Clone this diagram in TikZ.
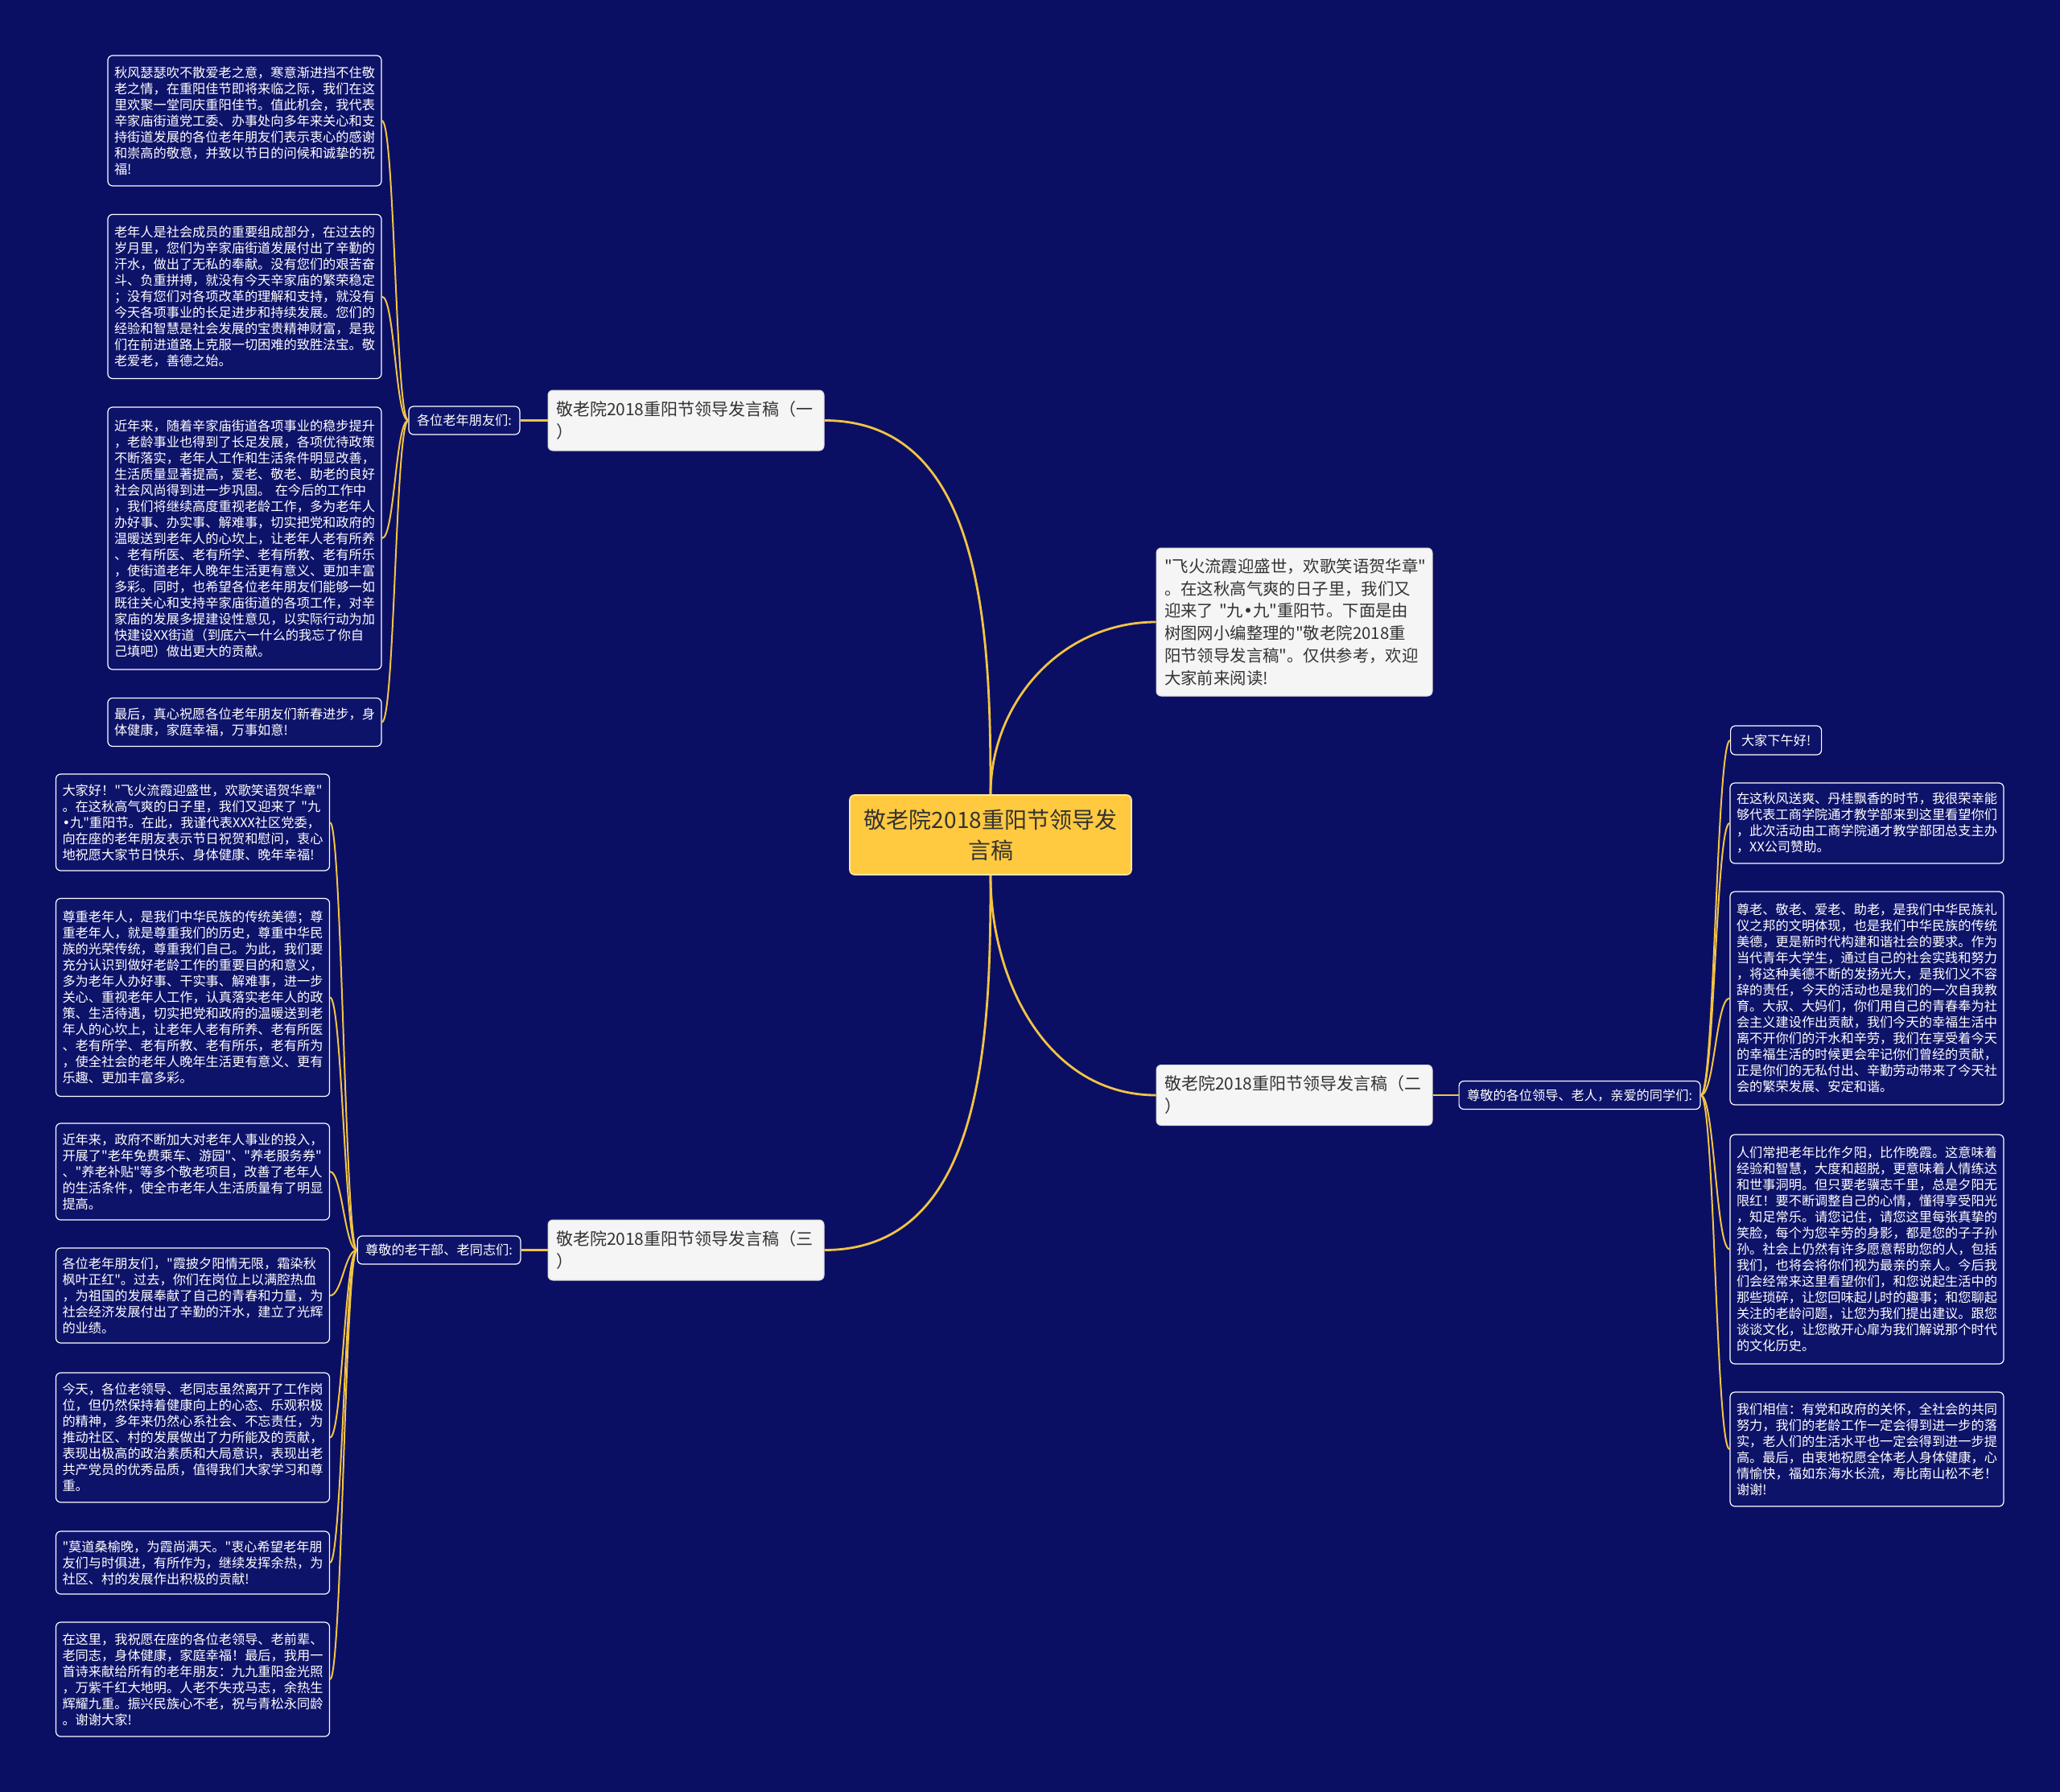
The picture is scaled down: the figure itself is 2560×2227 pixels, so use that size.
\documentclass[tikz,border=0pt]{standalone}
\usepackage{fontspec}
\setmainfont{Noto Sans CJK SC}
\newfontfamily\cjkfont{Noto Sans CJK SC}
\newfontfamily\dotfont{DejaVu Sans}
\newcommand{\middot}{{\dotfont •}}
\usetikzlibrary{positioning}
\definecolor{bgnavy}{RGB}{11, 15, 100}
\definecolor{leafnavy}{RGB}{14, 19, 106}
\definecolor{topicyellow}{RGB}{255, 201, 64}
\definecolor{topicedge}{RGB}{255, 232, 160}
\definecolor{subfill}{RGB}{245, 245, 245}
\definecolor{subedge}{RGB}{215, 215, 215}
\definecolor{subtext}{RGB}{51, 51, 51}
\definecolor{linkgold}{RGB}{242, 196, 68}
\tikzset{
    topic/.style={rectangle, draw=topicedge, fill=topicyellow, text=subtext, line width=0.8pt, rounded corners=3pt, minimum width=175pt, minimum height=49.5pt, align=center, font=\cjkfont\fontsize{14pt}{18.8pt}\selectfont},
    subtopic/.style={rectangle, draw=subedge, fill=subfill, text=subtext, line width=0.5pt, rounded corners=3pt, text width=161.5pt, inner xsep=5pt, minimum height=37.5pt, align=left, font=\cjkfont\fontsize{10.5pt}{14pt}\selectfont},
    tagbox/.style={rectangle, draw=white, fill=leafnavy, text=white, line width=0.6pt, rounded corners=3pt, inner xsep=5pt, minimum height=17.5pt, font=\cjkfont\fontsize{8.1pt}{10pt}\selectfont},
    leafbox/.style={rectangle, draw=white, fill=leafnavy, text=white, line width=0.6pt, rounded corners=3pt, text width=162pt, inner xsep=4pt, align=left, font=\cjkfont\fontsize{8.1pt}{10pt}\selectfont},
    mainlink/.style={draw=linkgold, line width=1.4pt},
    twiglink/.style={draw=linkgold, line width=1pt}
}
\begin{document}
\begin{tikzpicture}[x=0.5pt, y=-0.5pt, node distance=16pt]
\fill [bgnavy] (0,0) rectangle (2560,2227);
\useasboundingbox (0,0) rectangle (2560,2227);

\node (topic) [topic] at (1231,1037.5) {敬老院2018重阳节领导发\\言稿};
\node (intro) [subtopic, minimum height=92pt, font=\cjkfont\fontsize{10.2pt}{13.9pt}\selectfont] at (1608.5,773) {"飞火流霞迎盛世，欢歌笑语贺华章"\\。在这秋高气爽的日子里，我们又\\迎来了~"九\middot 九"重阳节。下面是由\\树图网小编整理的"敬老院2018重\\阳节领导发言稿"。仅供参考，欢迎\\大家前来阅读!};
\node (sub1) [subtopic] at (852.5,522.5) {敬老院2018重阳节领导发言稿（一\\）};
\node (sub2) [subtopic] at (1608.5,1361) {敬老院2018重阳节领导发言稿（二\\）};
\node (sub3) [subtopic] at (852.5,1553.5) {敬老院2018重阳节领导发言稿（三\\）};

\node (tag1) [tagbox, left=17pt of sub1] {各位老年朋友们:};
\node (tag2) [tagbox, right=16pt of sub2] {尊敬的各位领导、老人，亲爱的同学们:};
\node (tag3) [tagbox, left=16.5pt of sub3] {尊敬的老干部、老同志们:};

\node (lt1) [leafbox, minimum height=81pt] at (304,150) {秋风瑟瑟吹不散爱老之意，寒意渐进挡不住敬\\老之情，在重阳佳节即将来临之际，我们在这\\里欢聚一堂同庆重阳佳节。值此机会，我代表\\辛家庙街道党工委、办事处向多年来关心和支\\持街道发展的各位老年朋友们表示衷心的感谢\\和崇高的敬意，并致以节日的问候和诚挚的祝\\福!};
\node (lt2) [leafbox, minimum height=102pt] at (304,368.5) {老年人是社会成员的重要组成部分，在过去的\\岁月里，您们为辛家庙街道发展付出了辛勤的\\汗水，做出了无私的奉献。没有您们的艰苦奋\\斗、负重拼搏，就没有今天辛家庙的繁荣稳定\\；没有您们对各项改革的理解和支持，就没有\\今天各项事业的长足进步和持续发展。您们的\\经验和智慧是社会发展的宝贵精神财富，是我\\们在前进道路上克服一切困难的致胜法宝。敬\\老爱老，善德之始。};
\node (lt3) [leafbox, minimum height=163pt] at (304,669) {近年来，随着辛家庙街道各项事业的稳步提升\\，老龄事业也得到了长足发展，各项优待政策\\不断落实，老年人工作和生活条件明显改善，\\生活质量显著提高，爱老、敬老、助老的良好\\社会风尚得到进一步巩固。 在今后的工作中\\，我们将继续高度重视老龄工作，多为老年人\\办好事、办实事、解难事，切实把党和政府的\\温暖送到老年人的心坎上，让老年人老有所养\\、老有所医、老有所学、老有所教、老有所乐\\，使街道老年人晚年生活更有意义、更加丰富\\多彩。同时，也希望各位老年朋友们能够一如\\既往关心和支持辛家庙街道的各项工作，对辛\\家庙的发展多提建设性意见，以实际行动为加\\快建设XX街道（到底六一什么的我忘了你自\\己填吧）做出更大的贡献。};
\node (lt4) [leafbox, minimum height=30pt] at (304,897.5) {最后，真心祝愿各位老年朋友们新春进步，身\\体健康，家庭幸福，万事如意!};

\node (lb1) [leafbox, minimum height=60pt] at (239.5,1022) {大家好！"飞火流霞迎盛世，欢歌笑语贺华章"\\。在这秋高气爽的日子里，我们又迎来了~"九\\\middot 九"重阳节。在此，我谨代表XXX社区党委，\\向在座的老年朋友表示节日祝贺和慰问，衷心\\地祝愿大家节日快乐、身体健康、晚年幸福!};
\node (lb2) [leafbox, minimum height=123pt] at (239.5,1239.5) {尊重老年人，是我们中华民族的传统美德；尊\\重老年人，就是尊重我们的历史，尊重中华民\\族的光荣传统，尊重我们自己。为此，我们要\\充分认识到做好老龄工作的重要目的和意义，\\多为老年人办好事、干实事、解难事，进一步\\关心、重视老年人工作，认真落实老年人的政\\策、生活待遇，切实把党和政府的温暖送到老\\年人的心坎上，让老年人老有所养、老有所医\\、老有所学、老有所教、老有所乐，老有所为\\，使全社会的老年人晚年生活更有意义、更有\\乐趣、更加丰富多彩。};
\node (lb3) [leafbox, minimum height=60pt] at (239.5,1456) {近年来，政府不断加大对老年人事业的投入，\\开展了"老年免费乘车、游园"、"养老服务券"\\、"养老补贴"等多个敬老项目，改善了老年人\\的生活条件，使全市老年人生活质量有了明显\\提高。};
\node (lb4) [leafbox, minimum height=59pt] at (239.5,1610) {各位老年朋友们，"霞披夕阳情无限，霜染秋\\枫叶正红"。过去，你们在岗位上以满腔热血\\，为祖国的发展奉献了自己的青春和力量，为\\社会经济发展付出了辛勤的汗水，建立了光辉\\的业绩。};
\node (lb5) [leafbox, minimum height=80.5pt] at (239.5,1786.5) {今天，各位老领导、老同志虽然离开了工作岗\\位，但仍然保持着健康向上的心态、乐观积极\\的精神，多年来仍然心系社会、不忘责任，为\\推动社区、村的发展做出了力所能及的贡献，\\表现出极高的政治素质和大局意识，表现出老\\共产党员的优秀品质，值得我们大家学习和尊\\重。};
\node (lb6) [leafbox, minimum height=39pt] at (239.5,1942) {"莫道桑榆晚，为霞尚满天。"衷心希望老年朋\\友们与时俱进，有所作为，继续发挥余热，为\\社区、村的发展作出积极的贡献!};
\node (lb7) [leafbox, minimum height=71pt] at (239.5,2087) {在这里，我祝愿在座的各位老领导、老前辈、\\老同志，身体健康，家庭幸福！最后，我用一\\首诗来献给所有的老年朋友：九九重阳金光照\\，万紫千红大地明。人老不失戎马志，余热生\\辉耀九重。振兴民族心不老，祝与青松永同龄\\。谢谢大家!};

\node (lr1) [tagbox, minimum height=18pt, minimum width=56.5pt, anchor=west] at (2150,920) {大家下午好!};
\node (lr2) [leafbox, minimum height=50pt] at (2320,1023) {在这秋风送爽、丹桂飘香的时节，我很荣幸能\\够代表工商学院通才教学部来到这里看望你们\\，此次活动由工商学院通才教学部团总支主办\\，XX公司赞助。};
\node (lr3) [leafbox, minimum height=132.5pt] at (2320,1240.5) {尊老、敬老、爱老、助老，是我们中华民族礼\\仪之邦的文明体现，也是我们中华民族的传统\\美德，更是新时代构建和谐社会的要求。作为\\当代青年大学生，通过自己的社会实践和努力\\，将这种美德不断的发扬光大，是我们义不容\\辞的责任，今天的活动也是我们的一次自我教\\育。大叔、大妈们，你们用自己的青春奉为社\\会主义建设作出贡献，我们今天的幸福生活中\\离不开你们的汗水和辛劳，我们在享受着今天\\的幸福生活的时候更会牢记你们曾经的贡献，\\正是你们的无私付出、辛勤劳动带来了今天社\\会的繁荣发展、安定和谐。};
\node (lr4) [leafbox, minimum height=142.5pt] at (2320,1552.5) {人们常把老年比作夕阳，比作晚霞。这意味着\\经验和智慧，大度和超脱，更意味着人情练达\\和世事洞明。但只要老骥志千里，总是夕阳无\\限红！要不断调整自己的心情，懂得享受阳光\\，知足常乐。请您记住，请您这里每张真挚的\\笑脸，每个为您辛劳的身影，都是您的子子孙\\孙。社会上仍然有许多愿意帮助您的人，包括\\我们，也将会将你们视为最亲的亲人。今后我\\们会经常来这里看望你们，和您说起生活中的\\那些琐碎，让您回味起儿时的趣事；和您聊起\\关注的老龄问题，让您为我们提出建议。跟您\\谈谈文化，让您敞开心扉为我们解说那个时代\\的文化历史。};
\node (lr5) [leafbox, minimum height=71pt] at (2320,1801) {我们相信：有党和政府的关怀，全社会的共同\\努力，我们的老龄工作一定会得到进一步的落\\实，老人们的生活水平也一定会得到进一步提\\高。最后，由衷地祝愿全体老人身体健康，心\\情愉快，福如东海水长流，寿比南山松不老！\\谢谢!};

\draw [mainlink] (topic.north) to[out=90, in=0] (sub1.east);
\draw [mainlink] (topic.north) to[out=90, in=180] (intro.west);
\draw [mainlink] (topic.south) to[out=-90, in=180] (sub2.west);
\draw [mainlink] (topic.south) to[out=-90, in=0] (sub3.east);
\draw [mainlink] (sub1.west) -- (tag1.east);
\draw [mainlink] (sub2.east) -- (tag2.west);
\draw [mainlink] (sub3.west) -- (tag3.east);

\draw [twiglink] (tag1.west) .. controls +(-16,0) and +(16,0) .. (lt1.east);
\draw [twiglink] (tag1.west) .. controls +(-16,0) and +(16,0) .. (lt2.east);
\draw [twiglink] (tag1.west) .. controls +(-16,0) and +(16,0) .. (lt3.east);
\draw [twiglink] (tag1.west) .. controls +(-16,0) and +(16,0) .. (lt4.east);

\draw [twiglink] (tag3.west) .. controls +(-15,0) and +(15,0) .. (lb1.east);
\draw [twiglink] (tag3.west) .. controls +(-15,0) and +(15,0) .. (lb2.east);
\draw [twiglink] (tag3.west) .. controls +(-15,0) and +(15,0) .. (lb3.east);
\draw [twiglink] (tag3.west) .. controls +(-15,0) and +(15,0) .. (lb4.east);
\draw [twiglink] (tag3.west) .. controls +(-15,0) and +(15,0) .. (lb5.east);
\draw [twiglink] (tag3.west) .. controls +(-15,0) and +(15,0) .. (lb6.east);
\draw [twiglink] (tag3.west) .. controls +(-15,0) and +(15,0) .. (lb7.east);

\draw [twiglink] (tag2.east) .. controls +(17,0) and +(-17,0) .. (lr1.west);
\draw [twiglink] (tag2.east) .. controls +(17,0) and +(-17,0) .. (lr2.west);
\draw [twiglink] (tag2.east) .. controls +(17,0) and +(-17,0) .. (lr3.west);
\draw [twiglink] (tag2.east) .. controls +(17,0) and +(-17,0) .. (lr4.west);
\draw [twiglink] (tag2.east) .. controls +(17,0) and +(-17,0) .. (lr5.west);
\end{tikzpicture}
\end{document}
